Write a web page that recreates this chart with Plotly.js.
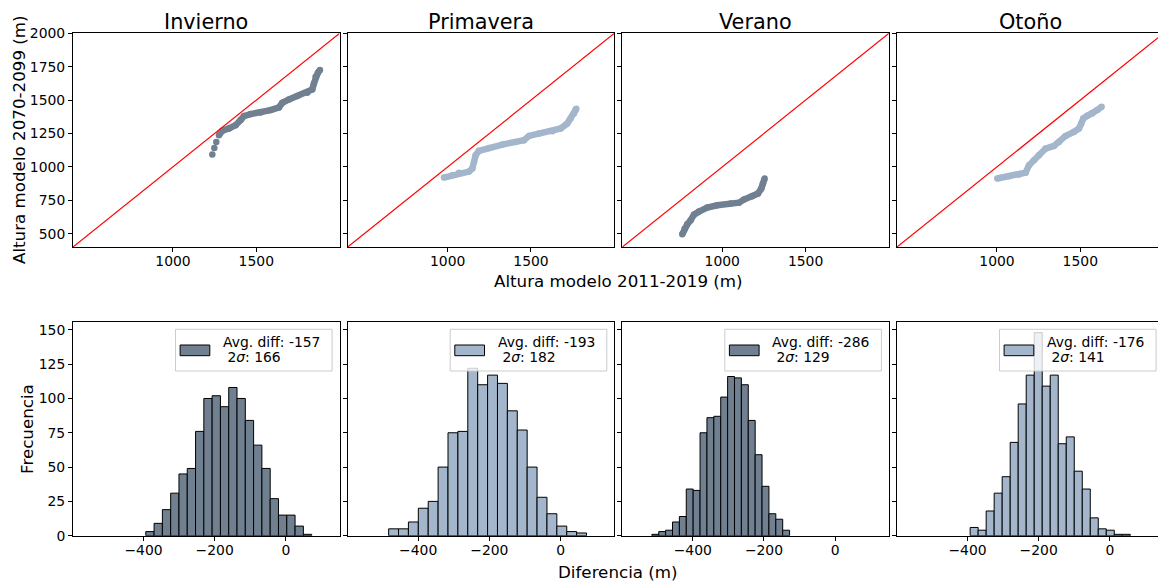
<!DOCTYPE html>
<html>
<head>
<meta charset="utf-8">
<script src="https://cdn.plot.ly/plotly-3.0.1.min.js"></script>
<style>
  html, body { margin: 0; padding: 0; overflow: hidden; background: #fff; }
  #chart { width: 1164px; height: 581px; }
</style>
</head>
<body>
<div id="chart"></div>
<script>
// Seasons and their colours
const seasons = ['Invierno', 'Primavera', 'Verano', 'Otoño'];
const seasonColors = ['#708090', '#a3b6cb', '#708090', '#a3b6cb'];

// Quantile pairs: height 2011-2019 (x) vs height 2070-2099 (y), in metres
const winterTailX = [1236, 1248, 1260];
const winterTailY = [1093, 1142, 1187];
const winterX = [1276, 1296, 1336, 1376, 1406, 1426, 1466, 1526, 1586, 1636, 1656, 1696, 1746, 1806, 1836, 1846, 1856, 1870, 1882];
const winterY = [1237, 1270, 1288, 1312, 1350, 1380, 1395, 1407, 1425, 1445, 1480, 1505, 1530, 1555, 1580, 1625, 1675, 1705, 1725];

const springX = [978, 1028, 1068, 1128, 1148, 1158, 1168, 1188, 1248, 1328, 1408, 1458, 1488, 1548, 1628, 1678, 1718, 1738, 1758, 1768, 1772];
const springY = [920, 937, 955, 965, 987, 1037, 1087, 1120, 1142, 1167, 1187, 1200, 1232, 1250, 1267, 1287, 1325, 1362, 1400, 1425, 1435];

const summerX = [760, 774, 790, 810, 830, 860, 910, 970, 1050, 1100, 1130, 1180, 1214, 1234, 1244, 1254];
const summerY = [495, 537, 570, 600, 642, 665, 695, 712, 725, 732, 755, 780, 800, 837, 875, 912];

const autumnX = [1002, 1072, 1132, 1172, 1192, 1222, 1252, 1292, 1342, 1372, 1412, 1462, 1492, 1506, 1518, 1542, 1572, 1602, 1628];
const autumnY = [913, 930, 942, 957, 1012, 1050, 1087, 1137, 1157, 1187, 1232, 1262, 1287, 1325, 1362, 1382, 1400, 1425, 1450];

// 1:1 reference line
const identityLine = [400, 2000];

// Histograms of the difference (m): first bin edge, bin width, counts
const winterBinStart = -393.5, winterBinWidth = 23.3;
const winterCounts = [3, 9, 19, 31, 45, 49, 76, 100, 102, 94, 108, 100, 84, 66, 49, 27, 15, 15, 7, 1];
const springBinStart = -483, springBinWidth = 27.8;
const springCounts = [5, 5, 10, 20, 25, 50, 75, 76, 122, 110, 117, 111, 91, 77, 50, 28, 16, 7, 3, 2];
const summerBinStart = -515, summerBinWidth = 19.35;
const summerCounts = [1, 3, 4, 10, 14, 34, 33, 75, 86, 87, 101, 116, 115, 110, 84, 59, 36, 16, 12, 4];
const autumnBinStart = -392.5, autumnBinWidth = 22.5;
const autumnCounts = [6, 4, 18, 31, 43, 68, 96, 117, 148, 109, 117, 67, 72, 47, 34, 13, 5, 4, 1, 1];

// Legend statistics
const avgDiff = [-157, -193, -286, -176];
const twoSigma = [166, 182, 129, 141];

// Tick values
const scatterXTicks = [1000, 1500];
const scatterYTicks = [500, 750, 1000, 1250, 1500, 1750, 2000];
const histXTicks = [-400, -200, 0];
const histYTicks = [0, 25, 50, 75, 100, 125, 150];

// ---- layout geometry (pixels) ----
const W = 1164, H = 581;
const panelLeft = [73, 347.7, 622.3, 897];
const panelWidth = 266.6;
const topRow = [33.3, 247];
const bottomRow = [322.3, 535.7];
const px = v => v / W;
const py = v => 1 - v / H;

const FONT = 'DejaVu Sans, Liberation Sans, sans-serif';

const curves = [
  [winterX, winterY], [springX, springY], [summerX, summerY], [autumnX, autumnY]
];
const hists = [
  [winterBinStart, winterBinWidth, winterCounts],
  [springBinStart, springBinWidth, springCounts],
  [summerBinStart, summerBinWidth, summerCounts],
  [autumnBinStart, autumnBinWidth, autumnCounts]
];

const traces = [];
const layout = {
  width: W, height: H,
  margin: { l: 0, r: 0, t: 0, b: 0, pad: 0 },
  paper_bgcolor: '#fff', plot_bgcolor: '#fff',
  font: { family: FONT, size: 13.9, color: '#000' },
  showlegend: false,
  shapes: [], annotations: []
};

function axisBase(domain, range, tickvals, showLabels) {
  return {
    domain: domain, range: range, tickvals: tickvals,
    showticklabels: showLabels,
    showline: true, mirror: true, linecolor: '#000', linewidth: 1,
    ticks: 'outside', ticklen: 4, tickwidth: 1, tickcolor: '#000',
    showgrid: false, zeroline: false, fixedrange: true,
    tickfont: { family: FONT, size: 13.9, color: '#000' }
  };
}

for (let i = 0; i < 4; i++) {
  const xd = [px(panelLeft[i]), px(panelLeft[i] + panelWidth)];
  const nTop = i + 1, nBot = i + 5;
  const xTop = 'x' + (nTop === 1 ? '' : nTop), yTop = 'y' + (nTop === 1 ? '' : nTop);
  const xBot = 'x' + nBot, yBot = 'y' + nBot;

  // scatter panel axes
  layout['xaxis' + (nTop === 1 ? '' : nTop)] = Object.assign(
    axisBase(xd, [400, 2000], scatterXTicks, true), { anchor: yTop, ticklabelstandoff: -3 });
  layout['yaxis' + (nTop === 1 ? '' : nTop)] = Object.assign(
    axisBase([py(topRow[1]), py(topRow[0])], [400, 2000], scatterYTicks, i === 0), { anchor: xTop });

  // histogram panel axes
  layout['xaxis' + nBot] = Object.assign(
    axisBase(xd, [-598, 151], histXTicks, true), { anchor: yBot, ticklabelstandoff: -2 });
  layout['yaxis' + nBot] = Object.assign(
    axisBase([py(bottomRow[1]), py(bottomRow[0])], [0, 155.5], histYTicks, i === 0), { anchor: xBot });

  // quantile curve
  if (i === 0) {
    traces.push({
      type: 'scatter', mode: 'markers', x: winterTailX, y: winterTailY,
      xaxis: xTop, yaxis: yTop, hoverinfo: 'skip',
      marker: { color: seasonColors[i], size: 6.5 }
    });
  }
  traces.push({
    type: 'scatter', mode: 'lines+markers', x: curves[i][0], y: curves[i][1],
    xaxis: xTop, yaxis: yTop, hoverinfo: 'skip',
    line: { color: seasonColors[i], width: 6.5 },
    marker: { color: seasonColors[i], size: 6.5 }
  });
  traces.push({
    type: 'scatter', mode: 'lines', x: identityLine, y: identityLine,
    xaxis: xTop, yaxis: yTop, hoverinfo: 'skip',
    line: { color: '#ff0000', width: 1.2 }
  });

  // histogram bars
  const [start, width, counts] = hists[i];
  const centers = counts.map((_, k) => start + width * (k + 0.5));
  traces.push({
    type: 'bar', x: centers, y: counts, width: width,
    xaxis: xBot, yaxis: yBot, hoverinfo: 'skip',
    marker: { color: seasonColors[i], line: { color: '#000', width: 1 } }
  });

  // panel title
  layout.annotations.push({
    xref: 'paper', yref: 'paper', x: px(panelLeft[i] + panelWidth / 2), y: py(21.7),
    xanchor: 'center', yanchor: 'middle', showarrow: false,
    text: seasons[i], font: { family: FONT, size: 20.8, color: '#000' }
  });

  // legend box
  const boxR = panelLeft[i] + panelWidth - 7.5;
  const boxL = boxR - 156.6;
  layout.shapes.push({
    type: 'rect', xref: 'paper', yref: 'paper', layer: 'above',
    x0: px(boxL), x1: px(boxR), y0: py(371), y1: py(329.3),
    fillcolor: 'rgba(255,255,255,0.8)', line: { color: '#cccccc', width: 1 }
  });
  layout.shapes.push({
    type: 'rect', xref: 'paper', yref: 'paper', layer: 'above',
    x0: px(boxL + 4.6), x1: px(boxL + 34.3), y0: py(355.7), y1: py(345),
    fillcolor: seasonColors[i], line: { color: '#000', width: 1 }
  });
  layout.annotations.push({
    xref: 'paper', yref: 'paper', x: px(boxL + 45.5), y: py(341.7),
    xanchor: 'left', yanchor: 'middle', showarrow: false,
    text: 'Avg. diff: ' + String(avgDiff[i]), font: { family: FONT, size: 13.9, color: '#000' }
  });
  layout.annotations.push({
    xref: 'paper', yref: 'paper', x: px(boxL + 45.5), y: py(357),
    xanchor: 'left', yanchor: 'middle', showarrow: false,
    text: '\u00a02<i>σ</i>: ' + String(twoSigma[i]), font: { family: FONT, size: 13.9, color: '#000' }
  });
}

// shared axis labels
const labelFont = { family: FONT, size: 16.7, color: '#000' };
layout.annotations.push(
  { xref: 'paper', yref: 'paper', x: px(19), y: py(140), textangle: -90,
    xanchor: 'center', yanchor: 'middle', showarrow: false,
    text: 'Altura modelo 2070-2099 (m)', font: labelFont },
  { xref: 'paper', yref: 'paper', x: px(618), y: py(281),
    xanchor: 'center', yanchor: 'middle', showarrow: false,
    text: 'Altura modelo 2011-2019 (m)', font: labelFont },
  { xref: 'paper', yref: 'paper', x: px(27), y: py(429), textangle: -90,
    xanchor: 'center', yanchor: 'middle', showarrow: false,
    text: 'Frecuencia', font: labelFont },
  { xref: 'paper', yref: 'paper', x: px(618), y: py(571.5),
    xanchor: 'center', yanchor: 'middle', showarrow: false,
    text: 'Diferencia (m)', font: labelFont }
);

Plotly.newPlot('chart', traces, layout, { staticPlot: true, displayModeBar: false });
</script>
</body>
</html>
